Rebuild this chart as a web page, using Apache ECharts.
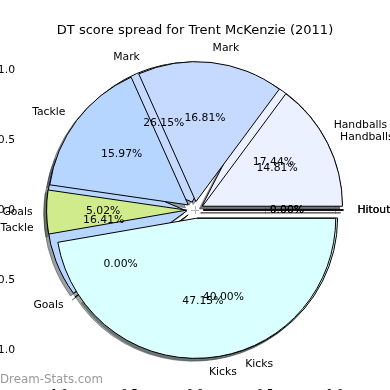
<!DOCTYPE html>
<html>
<head>
<meta charset="utf-8">
<script src="https://cdn.jsdelivr.net/npm/echarts@6/dist/echarts.min.js"></script>
<style>html,body{margin:0;padding:0;background:#fff}#c{width:390px;height:390px}</style>
</head>
<body>
<div id="c"></div>
<script>
const categories = ['Handballs', 'Mark', 'Tackle', 'Goals', 'Kicks', 'Hitout'];
const valuesA = [17.44, 26.15, 16.41, 0.00, 40.00, 0.00];   // first pie (drawn behind)
const valuesB = [14.81, 16.81, 15.97, 5.02, 47.15, 0.00];   // second pie (drawn in front)
const tickValues = [-1.0, -0.5, 0.0, 0.5, 1.0];
const colors = ['#ebf1ff', '#c6d9ff', '#b6d6ff', '#d0eb8c', '#d9ffff', '#ffd9d9'];

const FONT = 'DejaVu Sans';
const R = 140, CX = 195, CY = 210;
const EXPLODE = 0.06 * R, SHADOW = 0.02 * R;

function shadowColor(hex) {
  const n = parseInt(hex.slice(1), 16);
  const r = Math.round(((n >> 16) & 255) * 0.3), g = Math.round(((n >> 8) & 255) * 0.3), b = Math.round((n & 255) * 0.3);
  return 'rgba(' + r + ',' + g + ',' + b + ',0.5)';
}
function mkData(vals, kind) {
  return categories.map((name, i) => {
    let itemStyle;
    if (kind === 'shadow') itemStyle = { color: shadowColor(colors[i]), borderColor: shadowColor(colors[i]), borderWidth: 1 };
    else if (kind === 'wedge') itemStyle = { color: colors[i], borderColor: '#000', borderWidth: 1 };
    else itemStyle = { color: 'rgba(0,0,0,0)', borderWidth: 0 };
    return { name, value: vals[i], selected: true, itemStyle, select: { itemStyle } };
  });
}
const base = {
  type: 'pie', startAngle: 0, clockwise: false, selectedMode: 'multiple',
  selectedOffset: EXPLODE, avoidLabelOverlap: false, animation: false,
  emphasis: { disabled: true }, minAngle: 0, silent: true,
  labelLayout: { hideOverlap: false, moveOverlap: null }
};
function shadowSeries(vals, z) {
  return Object.assign({}, base, { center: [CX - SHADOW, CY + SHADOW], radius: R, z, data: mkData(vals, 'shadow'), label: { show: false }, labelLine: { show: false } });
}
function wedgeSeries(vals, z) {
  return Object.assign({}, base, {
    center: [CX, CY], radius: R, z, data: mkData(vals, 'wedge'),
    label: { show: true, position: 'outside', formatter: '{b}', fontSize: 10.8, fontFamily: FONT, color: '#000', distanceToLabelLine: 0 },
    labelLine: { show: false, length: 0.1 * R, length2: 0 }
  });
}
function pctSeries(vals, z) {
  return Object.assign({}, base, {
    center: [CX, CY], radius: 1.15 * R, z, data: mkData(vals, 'pct'),
    label: { show: true, position: 'inside', formatter: p => p.value.toFixed(2) + '%', fontSize: 10.8, fontFamily: FONT, color: '#000' },
    labelLine: { show: false }
  });
}
const fmt = v => (v < 0 ? '\u2212' : '') + Math.abs(v).toFixed(1);
const tick = { show: true, inside: true, length: 4, customValues: tickValues, lineStyle: { color: '#b0b0b0', width: 1 } };
function axis(pos, labels, margin) {
  return {
    type: 'value', min: -1.25, max: 1.25, position: pos,
    axisLine: { show: false }, splitLine: { show: false }, axisTick: tick,
    axisLabel: labels ? { show: true, customValues: tickValues, formatter: fmt, margin, fontSize: 10.8, fontFamily: FONT, color: '#000', hideOverlap: false } : { show: false }
  };
}
const chart = echarts.init(document.getElementById('c'));
chart.setOption({
  animation: false,
  title: { text: 'DT score spread for Trent McKenzie (2011)', left: 'center', top: 19, textStyle: { fontSize: 13, fontWeight: 'normal', fontFamily: FONT, color: '#000' } },
  grid: { left: 20, right: 20, top: 35, bottom: 5, show: false, containLabel: false, outerBoundsMode: 'none' },
  xAxis: [axis('bottom', true, 4), axis('top', false)],
  yAxis: [axis('left', true, 5), axis('right', false)],
  graphic: [{ type: 'text', left: 0, top: 374, style: { text: 'Dream-Stats.com', fontSize: 11.8, fontFamily: FONT, fill: '#9a9a9a' } }],
  series: [shadowSeries(valuesA, 1), shadowSeries(valuesB, 1), wedgeSeries(valuesA, 2), wedgeSeries(valuesB, 3), pctSeries(valuesA, 4), pctSeries(valuesB, 5)]
});
</script>
</body>
</html>
